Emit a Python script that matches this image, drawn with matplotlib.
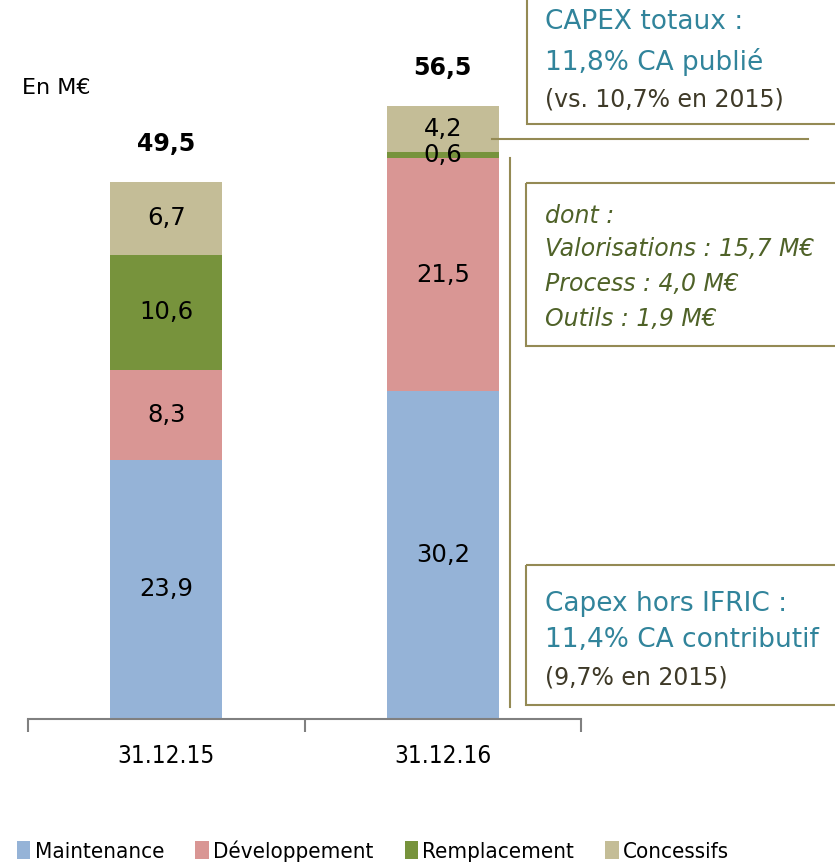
import matplotlib.pyplot as plt
from matplotlib.patches import Rectangle
from matplotlib.lines import Line2D
import numpy as np

# data
periods = ['31.12.15', '31.12.16']
series = ['Maintenance', 'Développement', 'Remplacement', 'Concessifs']
maintenance = [23.9, 30.2]
developpement = [8.3, 21.5]
remplacement = [10.6, 0.6]
concessifs = [6.7, 4.2]
totals = [49.5, 56.5]
labels_maint = ['23,9', '30,2']
labels_dev = ['8,3', '21,5']
labels_rempl = ['10,6', '0,6']
labels_conc = ['6,7', '4,2']
labels_total = ['49,5', '56,5']

colors = ['#95B3D7', '#D99694', '#77933C', '#C4BD97']
teal = '#31849B'
olive = '#4F6228'
frame = '#948A54'

W, H = 835, 864
fig = plt.figure(figsize=(W / 100, H / 100), dpi=100)

# main chart axes
ax = fig.add_axes([28 / W, 1 - 719 / H, (581 - 28) / W, 719 / H])
x = np.arange(len(periods))
stack = [maintenance, developpement, remplacement, concessifs]
stack_labels = [labels_maint, labels_dev, labels_rempl, labels_conc]
bottom = np.zeros(len(periods))
for vals, labs, col, name in zip(stack, stack_labels, colors, series):
    ax.bar(x, vals, 0.405, bottom=bottom, color=col, label=name)
    for xi, b, v, lab in zip(x, bottom, vals, labs):
        ax.text(xi, b + v / 2, lab, ha='center', va='center', fontsize=17.5, color='black')
    bottom = bottom + np.array(vals)

for xi, t, lab in zip(x, totals, labels_total):
    ax.text(xi, t + 3.5, lab, ha='center', va='center', fontsize=17,
            fontweight='bold', color='black')

ax.set_xlim(-0.5, 1.5)
ax.set_ylim(0, 719 / 10.85)
for s in ['top', 'right', 'left']:
    ax.spines[s].set_visible(False)
ax.spines['bottom'].set_color('#808080')
ax.spines['bottom'].set_linewidth(1.5)
ax.set_yticks([])
ax.set_xticks(x)
ax.set_xticklabels(periods, fontsize=17.5, fontstretch='condensed')
ax.tick_params(axis='x', length=0, pad=18)
ax.set_xticks([-0.5, 0.5, 1.5], minor=True)
ax.tick_params(axis='x', which='minor', length=9, width=1.5, color='#808080')

# overlay in pixel coordinates for notes
ov = fig.add_axes([0, 0, 1, 1], zorder=5)
ov.set_xlim(0, W)
ov.set_ylim(H, 0)
ov.axis('off')
ov.patch.set_alpha(0)

ov.text(22, 88, 'En M€', fontsize=16, va='center', ha='left')

# box 1
ov.add_patch(Rectangle((527, -5), 330, 129, fill=False, ec=frame, lw=1.5))
ov.text(545, 22, 'CAPEX totaux :', color=teal, fontsize=19, va='center')
ov.text(545, 62, '11,8% CA publié', color=teal, fontsize=19, va='center')
ov.text(545, 100, '(vs. 10,7% en 2015)', color='#3F3A28', fontsize=17, va='center')

# connector lines
ov.add_line(Line2D([492, 808], [139, 139], color=frame, lw=1.5))
ov.add_line(Line2D([510, 510], [158, 707], color=frame, lw=1.5))

# box 2
ov.add_patch(Rectangle((526, 183), 330, 163, fill=False, ec=frame, lw=1.5))
for yy, txt in zip([216, 249, 284, 319],
                   ['dont :', 'Valorisations : 15,7 M€', 'Process : 4,0 M€', 'Outils : 1,9 M€']):
    ov.text(545, yy, txt, color=olive, fontsize=17, style='italic', va='center')

# box 3
ov.add_patch(Rectangle((526, 565), 330, 140, fill=False, ec=frame, lw=1.5))
ov.text(545, 604, 'Capex hors IFRIC :', color=teal, fontsize=19, va='center')
ov.text(545, 640, '11,4% CA contributif', color=teal, fontsize=19, va='center')
ov.text(545, 677, '(9,7% en 2015)', color='#3F3A28', fontsize=17, va='center')

# legend
handles, labs = ax.get_legend_handles_labels()
fig.legend(handles, labs, loc='center left', bbox_to_anchor=(8 / W, 1 - 851 / H),
           ncol=4, frameon=False, handlelength=0.6, handleheight=0.85,
           handletextpad=0.2, columnspacing=1.4, borderaxespad=0,
           prop={'size': 16, 'stretch': 'condensed'})

fig.savefig('out.png', dpi=100)
